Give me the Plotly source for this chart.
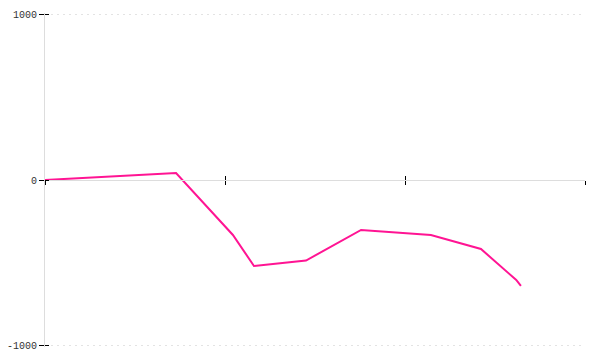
import plotly.graph_objects as go

x_values = [0, 0.728, 1.044, 1.161, 1.45, 1.756, 2.144, 2.422, 2.618, 2.644]
y_values = [0, 42, -333, -521, -488, -303, -333, -418, -606, -642]
x_ticks = [0, 1, 2, 3]
y_ticks = [-1000, 0, 1000]
y_tick_labels = ["-1000", "0", "1000"]

fig = go.Figure()
fig.add_trace(go.Scatter(
    x=x_values, y=y_values, mode="lines",
    line=dict(color="#ff1493", width=2),
    hoverinfo="skip", showlegend=False,
))
# invisible companion trace so the overlaid tick axes are drawn
fig.add_trace(go.Scatter(
    x=x_values, y=y_values, mode="lines", xaxis="x2", yaxis="y2",
    line=dict(color="rgba(0,0,0,0)", width=0),
    hoverinfo="skip", showlegend=False,
))

font = dict(family="Liberation Mono", size=10, color="#333")
r = 1012

fig.update_layout(
    width=600, height=360,
    margin=dict(l=45, r=15, t=13, b=13),
    plot_bgcolor="white", paper_bgcolor="white",
    font=font,
    xaxis=dict(
        range=[0, 3], domain=[0, 1], automargin=False,
        anchor="free", position=0.5,
        tickmode="array", tickvals=x_ticks,
        ticks="outside", ticklen=4, tickwidth=1, tickcolor="black",
        showticklabels=False,
        showline=True, linecolor="#dddddd", linewidth=1,
        showgrid=False, zeroline=False,
    ),
    xaxis2=dict(
        range=[0, 3], domain=[0, 1], automargin=False,
        overlaying="x", anchor="free", position=0.5,
        tickmode="array", tickvals=x_ticks,
        ticks="inside", ticklen=4, tickwidth=1, tickcolor="black",
        showticklabels=False, showline=False,
        showgrid=False, zeroline=False,
    ),
    yaxis=dict(
        range=[-r, r], domain=[0, 1], automargin=False,
        tickmode="array", tickvals=y_ticks, ticktext=y_tick_labels,
        ticks="outside", ticklen=5, tickwidth=1, tickcolor="black",
        showline=True, linecolor="#dddddd", linewidth=1,
        showgrid=True, gridcolor="#e3e3e3", gridwidth=1, griddash="2px,4px",
        zeroline=False, tickfont=font,
    ),
    yaxis2=dict(
        range=[-r, r], domain=[0, 1], automargin=False,
        overlaying="y", anchor="x",
        tickmode="array", tickvals=y_ticks,
        ticks="inside", ticklen=4, tickwidth=1, tickcolor="black",
        showticklabels=False, showline=False,
        showgrid=False, zeroline=False,
    ),
)

fig.write_html("out.html")
